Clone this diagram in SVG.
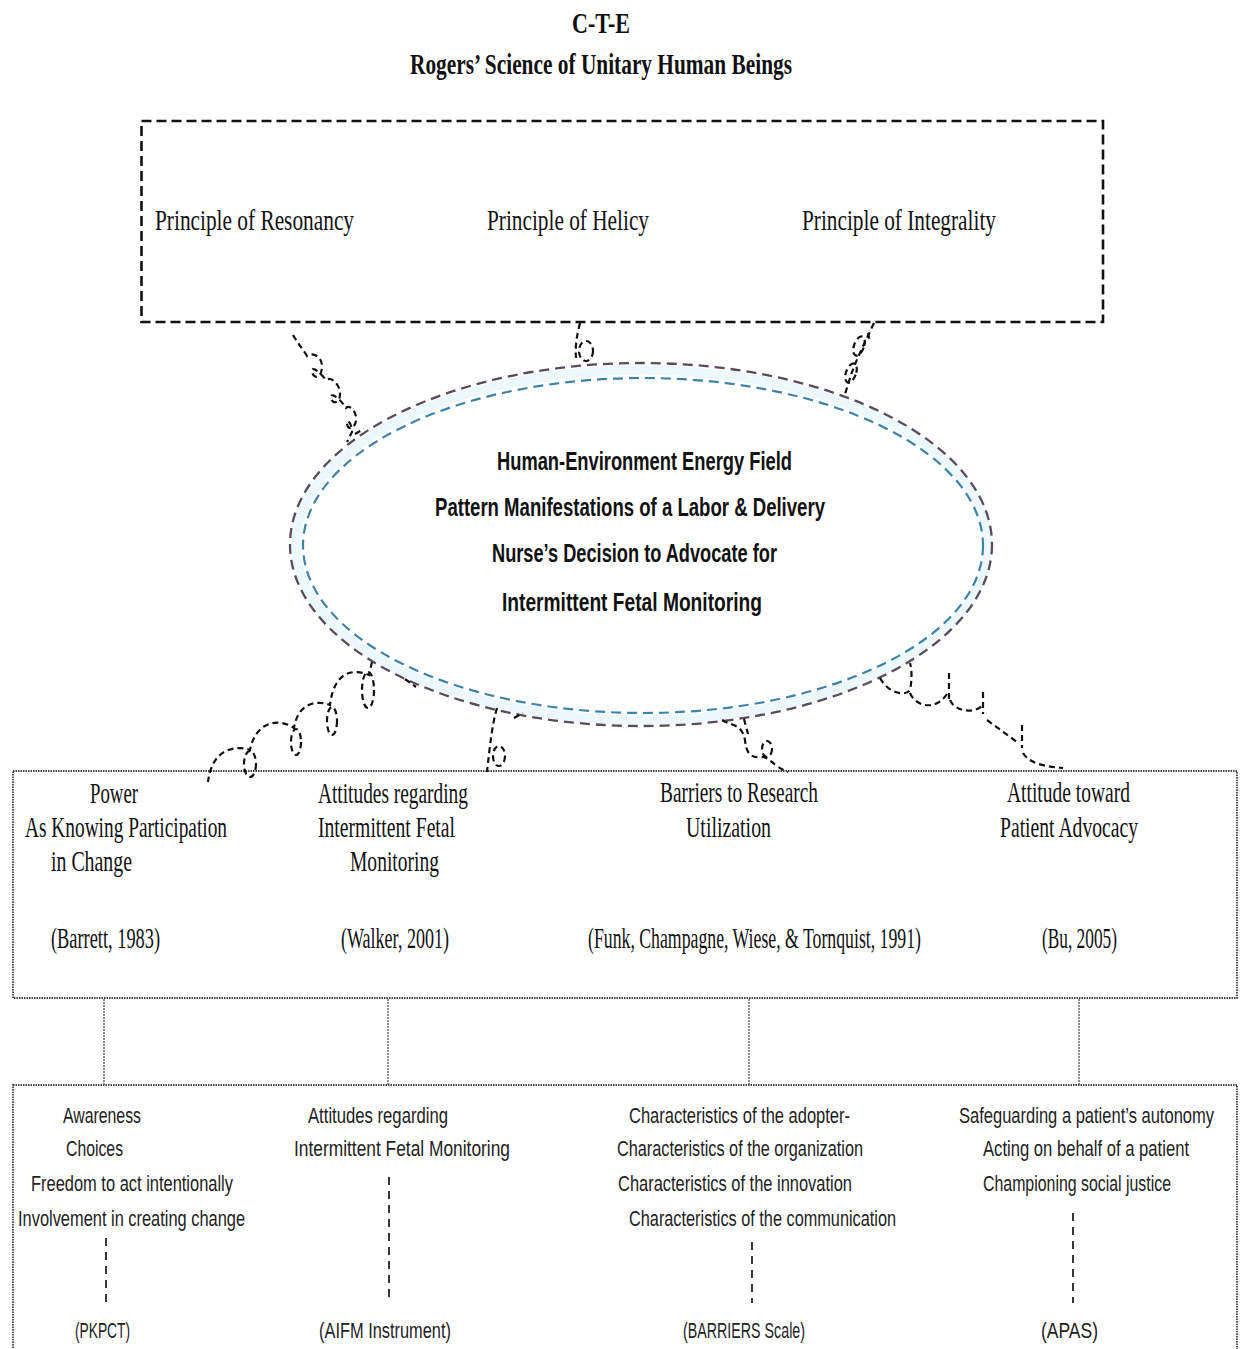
<svg xmlns="http://www.w3.org/2000/svg" width="1242" height="1349" viewBox="0 0 1242 1349">
<style>
.ser{font-family:"Liberation Serif","Times New Roman",serif;font-size:29px;fill:#111}
.tit{font-family:"Liberation Serif","Times New Roman",serif;font-size:30px;font-weight:bold;fill:#111}
.sans{font-family:"Liberation Sans",Arial,sans-serif;font-size:22px;fill:#222}
.bold{font-family:"Liberation Sans",Arial,sans-serif;font-size:25px;font-weight:bold;fill:#111}
.sq{fill:none;stroke:#111;stroke-width:2.2;stroke-dasharray:6 4}
.vd{fill:none;stroke:#222;stroke-width:1.8;stroke-dasharray:8 6}
.thin{fill:none;stroke:#444;stroke-width:1.2;stroke-dasharray:2 1}
</style>
<rect width="1242" height="1349" fill="#fff"/>
<g id="title">
<text class="tit" transform="translate(572,33) scale(0.8,1)" textLength="72.5" lengthAdjust="spacingAndGlyphs">C-T-E</text>
<text class="tit" transform="translate(410,74) scale(0.8,1)" textLength="477.5" lengthAdjust="spacingAndGlyphs">Rogers’ Science of Unitary Human Beings</text>
</g>
<g id="principles">
<rect x="141.5" y="121" width="961.5" height="201" fill="none" stroke="#111" stroke-width="2.6" stroke-dasharray="10 5"/>
<text class="ser" transform="translate(155,230) scale(0.72,1)" textLength="276.4" lengthAdjust="spacingAndGlyphs">Principle of Resonancy</text>
<text class="ser" transform="translate(487,230) scale(0.72,1)" textLength="225" lengthAdjust="spacingAndGlyphs">Principle of Helicy</text>
<text class="ser" transform="translate(802,230) scale(0.72,1)" textLength="269.4" lengthAdjust="spacingAndGlyphs">Principle of Integrality</text>
</g>
<g id="field">
<ellipse cx="642" cy="545" rx="346" ry="175" fill="none" stroke="#ecf8fc" stroke-width="9"/>
<ellipse cx="641" cy="544.5" rx="351" ry="181.5" fill="none" stroke="#5a4b5c" stroke-width="2.3" stroke-dasharray="10 6"/>
<ellipse cx="643" cy="545.5" rx="340" ry="167.5" fill="none" stroke="#3d83a6" stroke-width="2.2" stroke-dasharray="10 6"/>
<text class="bold" transform="translate(497,470) scale(0.85,1)" textLength="347" lengthAdjust="spacingAndGlyphs">Human-Environment Energy Field</text>
<text class="bold" transform="translate(435,516) scale(0.85,1)" textLength="458.8" lengthAdjust="spacingAndGlyphs">Pattern Manifestations of a Labor &amp; Delivery</text>
<text class="bold" transform="translate(492,562) scale(0.85,1)" textLength="335.3" lengthAdjust="spacingAndGlyphs">Nurse’s Decision to Advocate for</text>
<text class="bold" transform="translate(502,611) scale(0.85,1)" textLength="305.9" lengthAdjust="spacingAndGlyphs">Intermittent Fetal Monitoring</text>
</g>
<g id="concepts">
<rect x="13" y="771" width="1224" height="227" fill="none" stroke="#444" stroke-width="1.8" stroke-dasharray="1.5 1"/>
<text class="ser" transform="translate(90,803) scale(0.72,1)" textLength="66.7" lengthAdjust="spacingAndGlyphs">Power</text>
<text class="ser" transform="translate(25,837) scale(0.72,1)" textLength="280.6" lengthAdjust="spacingAndGlyphs">As Knowing Participation</text>
<text class="ser" transform="translate(51,871) scale(0.72,1)" textLength="112.5" lengthAdjust="spacingAndGlyphs">in Change</text>
<text class="ser" transform="translate(318,803) scale(0.72,1)" textLength="208.3" lengthAdjust="spacingAndGlyphs">Attitudes regarding</text>
<text class="ser" transform="translate(318,837) scale(0.72,1)" textLength="190.3" lengthAdjust="spacingAndGlyphs">Intermittent Fetal</text>
<text class="ser" transform="translate(350,871) scale(0.72,1)" textLength="123.6" lengthAdjust="spacingAndGlyphs">Monitoring</text>
<text class="ser" transform="translate(660,802) scale(0.72,1)" textLength="219.4" lengthAdjust="spacingAndGlyphs">Barriers to Research</text>
<text class="ser" transform="translate(686,837) scale(0.72,1)" textLength="118.1" lengthAdjust="spacingAndGlyphs">Utilization</text>
<text class="ser" transform="translate(1007,802) scale(0.72,1)" textLength="170.8" lengthAdjust="spacingAndGlyphs">Attitude toward</text>
<text class="ser" transform="translate(1000,837) scale(0.72,1)" textLength="191.7" lengthAdjust="spacingAndGlyphs">Patient Advocacy</text>
<text class="ser" transform="translate(51,948) scale(0.72,1)" textLength="151.4" lengthAdjust="spacingAndGlyphs">(Barrett, 1983)</text>
<text class="ser" transform="translate(341,948) scale(0.72,1)" textLength="150" lengthAdjust="spacingAndGlyphs">(Walker, 2001)</text>
<text class="ser" transform="translate(588,948) scale(0.72,1)" textLength="462.5" lengthAdjust="spacingAndGlyphs">(Funk, Champagne, Wiese, &amp; Tornquist, 1991)</text>
<text class="ser" transform="translate(1042,948) scale(0.72,1)" textLength="104.2" lengthAdjust="spacingAndGlyphs">(Bu, 2005)</text>
</g>
<g id="measures">
<rect x="13" y="1085" width="1224" height="270" fill="none" stroke="#444" stroke-width="1.8" stroke-dasharray="1.5 1"/>
<text class="sans" transform="translate(63,1123) scale(0.8,1)" textLength="97.5" lengthAdjust="spacingAndGlyphs">Awareness</text>
<text class="sans" transform="translate(66,1156) scale(0.8,1)" textLength="71.3" lengthAdjust="spacingAndGlyphs">Choices</text>
<text class="sans" transform="translate(31,1191) scale(0.8,1)" textLength="252.5" lengthAdjust="spacingAndGlyphs">Freedom to act intentionally</text>
<text class="sans" transform="translate(18,1226) scale(0.8,1)" textLength="283.8" lengthAdjust="spacingAndGlyphs">Involvement in creating change</text>
<text class="sans" transform="translate(75,1338) scale(0.8,1)" textLength="68.8" lengthAdjust="spacingAndGlyphs">(PKPCT)</text>
<text class="sans" transform="translate(308,1123) scale(0.8,1)" textLength="175" lengthAdjust="spacingAndGlyphs">Attitudes regarding</text>
<text class="sans" transform="translate(294,1156) scale(0.8,1)" textLength="270" lengthAdjust="spacingAndGlyphs">Intermittent Fetal Monitoring</text>
<text class="sans" transform="translate(319,1338) scale(0.8,1)" textLength="165" lengthAdjust="spacingAndGlyphs">(AIFM Instrument)</text>
<text class="sans" transform="translate(629,1123) scale(0.8,1)" textLength="276.3" lengthAdjust="spacingAndGlyphs">Characteristics of the adopter-</text>
<text class="sans" transform="translate(617,1156) scale(0.8,1)" textLength="307.5" lengthAdjust="spacingAndGlyphs">Characteristics of the organization</text>
<text class="sans" transform="translate(618,1191) scale(0.8,1)" textLength="292.5" lengthAdjust="spacingAndGlyphs">Characteristics of the innovation</text>
<text class="sans" transform="translate(629,1226) scale(0.8,1)" textLength="333.8" lengthAdjust="spacingAndGlyphs">Characteristics of the communication</text>
<text class="sans" transform="translate(683,1338) scale(0.8,1)" textLength="152.5" lengthAdjust="spacingAndGlyphs">(BARRIERS Scale)</text>
<text class="sans" transform="translate(959,1123) scale(0.8,1)" textLength="318.8" lengthAdjust="spacingAndGlyphs">Safeguarding a patient’s autonomy</text>
<text class="sans" transform="translate(983,1156) scale(0.8,1)" textLength="257.5" lengthAdjust="spacingAndGlyphs">Acting on behalf of a patient</text>
<text class="sans" transform="translate(983,1191) scale(0.8,1)" textLength="235" lengthAdjust="spacingAndGlyphs">Championing social justice</text>
<text class="sans" transform="translate(1041,1338) scale(0.8,1)" textLength="71.3" lengthAdjust="spacingAndGlyphs">(APAS)</text>
</g>
<g id="connectors">
<path class="sq" d="M293,335 C297,342 302,348 307,356 C312,352 322,356 322,366 C322,378 314,380 312,372 C311,366 318,370 326,380 C331,376 340,384 340,394 C340,404 332,404 331,398 C330,392 338,396 346,408 C350,404 357,412 356,420 C355,430 348,430 347,424 C346,418 352,422 352,432 L347,442"/>
<path class="sq" d="M355,434 L364,429"/>
<path class="sq" d="M580,323 C577,335 575,345 576,358"/>
<ellipse class="sq" cx="586" cy="351" rx="7" ry="10"/>
<path class="sq" d="M874,323 C866,340 858,356 852,372 L845,394"/>
<ellipse class="sq" cx="859" cy="346" rx="5" ry="10" transform="rotate(20 859 346)"/>
<ellipse class="sq" cx="851" cy="373" rx="5" ry="10" transform="rotate(20 851 373)"/>
<path class="sq" d="M868,333 L870,342"/>
<path class="sq" d="M372,662 L369,675 C352,668 334,672 330,705 C318,700 298,702 294,728 C280,718 256,720 250,750 C236,745 212,748 208,782"/>
<ellipse class="sq" cx="368" cy="690" rx="6" ry="18"/>
<ellipse class="sq" cx="332" cy="721" rx="5" ry="14"/>
<ellipse class="sq" cx="296" cy="742" rx="5" ry="13"/>
<ellipse class="sq" cx="250" cy="764" rx="6" ry="13"/>
<path class="sq" d="M405,679 L416,687"/>
<path class="sq" d="M497,708 C492,725 490,745 487,772"/>
<ellipse class="sq" cx="499" cy="756" rx="6" ry="10"/>
<path class="sq" d="M514,718 L523,713"/>
<path class="sq" d="M722,720 C732,726 742,724 745,740 C746,752 750,758 760,757 C770,756 772,766 788,772"/>
<ellipse class="sq" cx="767" cy="749" rx="5" ry="8"/>
<path class="sq" d="M744,719 L748,734"/>
<path class="sq" d="M880,678 C888,693 905,697 910,690 C912,680 912,670 910,663"/>
<path class="sq" d="M910,693 C915,706 935,712 947,694"/>
<path class="sq" d="M949,673 L949,702"/>
<path class="sq" d="M950,700 C955,712 975,714 983,705"/>
<path class="sq" d="M983,692 L983,714"/>
<path class="sq" d="M987,720 L1017,742"/>
<path class="sq" d="M1022,725 L1022,748"/>
<path class="sq" d="M1023,753 C1030,765 1050,767 1063,768"/>
<path class="thin" d="M104,999 V1085 M388,999 V1085 M749,999 V1085 M1079,999 V1085"/>
<path class="vd" d="M106,1238 V1303 M389,1177 V1302 M752,1242 V1303 M1073,1213 V1303"/>
</g>
</svg>
